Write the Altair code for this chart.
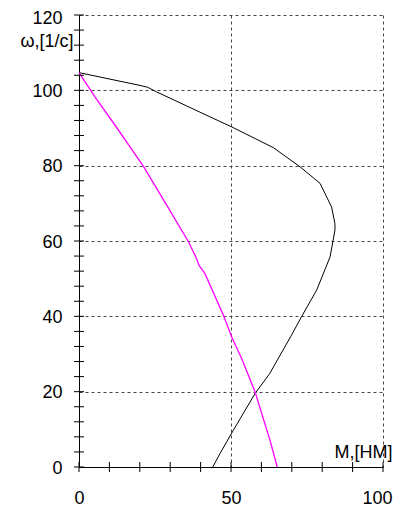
import altair as alt
import pandas as pd

# Black curve: M [Nm], omega [1/s]
black_m = [0, 20.1, 22.6, 25.5, 39.8, 50.2, 63.9, 72.7, 79.3, 83.1, 84.2, 84.2, 82.6, 78.2, 73.2, 69.9, 62.8, 57.9, 50.8, 46.4, 44.0]
black_w = [104.7, 101.3, 100.8, 99.6, 94.2, 90.3, 84.8, 79.7, 75.3, 69.0, 64.6, 62.9, 55.8, 47.0, 39.9, 35.0, 24.9, 19.5, 9.8, 3.6, 0]

# Magenta curve
mag_m = [0, 5.3, 12.5, 21.2, 28.5, 36.0, 38.7, 39.5, 41.4, 47.5, 50.2, 53.5, 57.9, 60.1, 62.8, 65.2]
mag_w = [104.7, 98.2, 90.0, 79.8, 70.0, 59.8, 55.3, 53.5, 51.4, 40.3, 34.6, 28.8, 20.0, 14.2, 7.2, 0]

x_labels = [0, 50, 100]
y_labels = [0, 20, 40, 60, 80, 100, 120]
x_ticks = list(range(0, 101, 10))
y_ticks = list(range(0, 121, 4))

W, H = 304, 452
FONT = "Liberation Sans"

df_b = pd.DataFrame({"M": black_m, "w": black_w, "i": range(len(black_m))})
df_m = pd.DataFrame({"M": mag_m, "w": mag_w, "i": range(len(mag_m))})

xs = alt.Scale(domain=[0, 100], nice=False, zero=False)
ys = alt.Scale(domain=[0, 120], nice=False, zero=False)

x_axis = alt.Axis(values=x_labels, ticks=False, tickSize=0, labelFontSize=18, labelFont=FONT,
                  labelColor="black", labelPadding=22, labelFlush=False, labelBound=False,
                  labelOffset=alt.condition("datum.value == 100", alt.value(-6), alt.value(0)),
                  domainColor="black", domainWidth=1,
                  grid=True, gridColor="#444", gridDash=[3, 3], gridWidth=1, gridOpacity=1,
                  title="M,[НМ]", titleFont=FONT, titleFontSize=18, titleFontWeight="normal",
                  titleColor="black", titleX=313, titleY=-10, titleAlign="right",
                  titleBaseline="alphabetic", titleAnchor="start")
y_axis = alt.Axis(values=y_labels, ticks=False, tickSize=0, labelFontSize=18, labelFont=FONT,
                  labelColor="black", labelPadding=17, labelFlush=False, labelBound=False,
                  labelOffset=alt.condition("datum.value == 120", alt.value(3), alt.value(1)),
                  domainColor="black", domainWidth=1,
                  grid=True, gridColor="#444", gridDash=[3, 3], gridWidth=1, gridOpacity=1,
                  title="ω,[1/c]", titleFont=FONT, titleFontSize=18, titleFontWeight="normal",
                  titleColor="black", titleAngle=0, titleX=-6, titleY=31, titleAlign="right",
                  titleBaseline="alphabetic", titleAnchor="start")

black = alt.Chart(df_b).mark_line(color="black", strokeWidth=1).encode(
    x=alt.X("M:Q", scale=xs, axis=x_axis),
    y=alt.Y("w:Q", scale=ys, axis=y_axis),
    order="i:Q",
)
mag = alt.Chart(df_m).mark_line(color="#ff00ff", strokeWidth=1.3).encode(
    x=alt.X("M:Q", scale=xs),
    y=alt.Y("w:Q", scale=ys),
    order="i:Q",
)
yt = alt.Chart(pd.DataFrame({"v": y_ticks})).mark_tick(color="black", size=10, thickness=1, opacity=1).encode(
    y=alt.Y("v:Q", scale=ys),
    x=alt.value(0),
)
xt = alt.Chart(pd.DataFrame({"v": x_ticks})).mark_tick(color="black", size=10, thickness=1, opacity=1).encode(
    x=alt.X("v:Q", scale=xs),
    y=alt.value(H),
)

chart = alt.layer(black, mag, yt, xt).properties(
    width=W, height=H,
    autosize=alt.AutoSizeParams(type="none"),
    padding={"left": 71, "top": 7, "right": 10, "bottom": 40},
).configure_view(strokeWidth=0)

chart.save("out.html", embed_options={"renderer": "svg", "actions": False})
